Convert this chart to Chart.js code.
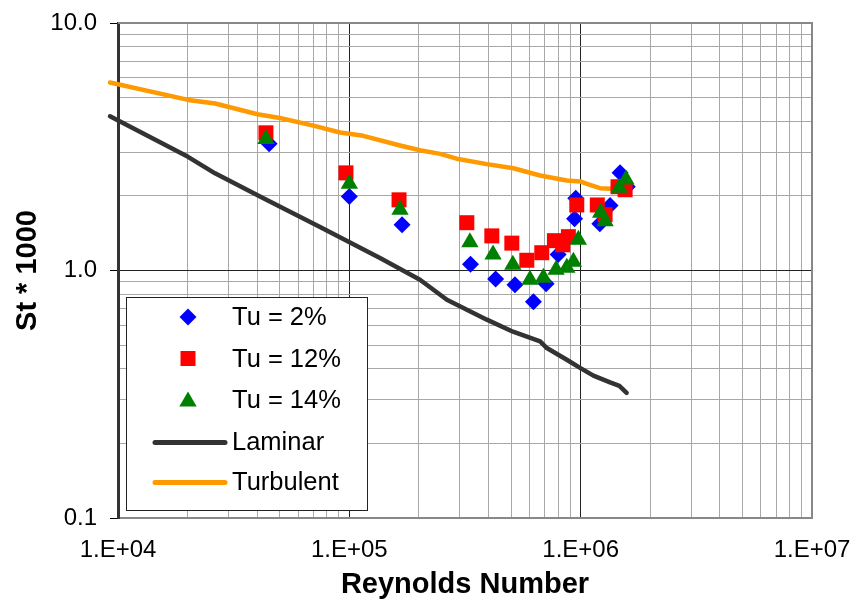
<!DOCTYPE html>
<html>
<head>
<meta charset="utf-8">
<title>Stanton number vs Reynolds number</title>
<script src="https://cdn.jsdelivr.net/npm/chart.js@4.4.1/dist/chart.umd.min.js"></script>
<style>
  html, body { margin: 0; padding: 0; background: #ffffff; }
  #wrap { width: 860px; height: 605px; }
</style>
</head>
<body>
<div id="wrap"><canvas id="chart" width="860" height="605"></canvas></div>
<script>
// Axis ticks (log decades) and their labels
const xTickValues = [1e4, 1e5, 1e6, 1e7];
const xTickLabels = ['1.E+04', '1.E+05', '1.E+06', '1.E+07'];
const yTickValues = [0.1, 1, 10];
const yTickLabels = ['0.1', '1.0', '10.0'];

// Measured Stanton numbers (St * 1000) at three turbulence intensities
const reTu2 = [4.5e4, 1.0e5, 1.69e5, 3.34e5, 4.29e5, 5.2e5, 6.25e5, 7.09e5, 7.99e5, 9.41e5, 9.52e5, 1.21e6, 1.34e6, 1.48e6, 1.59e6];
const stTu2 = [3.25, 1.99, 1.53, 1.06, 0.924, 0.876, 0.748, 0.884, 1.16, 1.62, 1.96, 1.545, 1.83, 2.48, 2.18];

const reTu12 = [4.36e4, 9.67e4, 1.64e5, 3.22e5, 4.13e5, 5.04e5, 5.85e5, 6.79e5, 7.7e5, 8.37e5, 8.85e5, 9.62e5, 1.18e6, 1.275e6, 1.45e6, 1.556e6];
const stTu12 = [3.60, 2.48, 1.93, 1.56, 1.38, 1.29, 1.10, 1.18, 1.32, 1.27, 1.37, 1.84, 1.84, 1.68, 2.18, 2.12];

const reTu14 = [4.36e4, 1.0e5, 1.656e5, 3.32e5, 4.18e5, 5.09e5, 6.04e5, 6.9e5, 7.83e5, 8.71e5, 9.3e5, 9.77e5, 1.22e6, 1.275e6, 1.47e6, 1.57e6];
const stTu14 = [3.40, 2.24, 1.76, 1.30, 1.16, 1.055, 0.918, 0.935, 1.007, 1.026, 1.085, 1.33, 1.71, 1.58, 2.16, 2.33];

// Reference correlations
const reLaminar = [9236, 2.007e4, 2.627e4, 4.11e4, 7.47e4, 1.357e5, 2.02e5, 2.64e5, 3.93e5, 5.1e5, 6.68e5, 7.14e5, 8.71e5, 9.94e5, 1.135e6, 1.34e6, 1.47e6, 1.58e6];
const stLaminar = [4.20, 2.88, 2.47, 1.99, 1.50, 1.123, 0.918, 0.762, 0.633, 0.566, 0.517, 0.486, 0.436, 0.404, 0.376, 0.353, 0.342, 0.320];

const reTurbulent = [9236, 2.01e4, 2.63e4, 4.01e4, 5.01e4, 6.99e4, 9.12e4, 1.149e5, 1.656e5, 2.02e5, 2.47e5, 2.91e5, 3.93e5, 5.12e5, 6.68e5, 8.71e5, 9.94e5, 1.063e6, 1.213e6, 1.353e6];
const stTurbulent = [5.75, 4.89, 4.73, 4.28, 4.13, 3.85, 3.61, 3.50, 3.20, 3.06, 2.96, 2.83, 2.69, 2.59, 2.42, 2.31, 2.29, 2.24, 2.15, 2.14];

const FONT = "'Liberation Sans', Arial, Helvetica, sans-serif";

function pairs(xs, ys) { return xs.map((x, i) => ({ x: x, y: ys[i] })); }

// Major tick at each decade plus minor ticks at 2..9
function decadeTicks(values) {
  const out = [];
  values.forEach((base, i) => {
    out.push({ value: base, major: true });
    if (i < values.length - 1) {
      for (let k = 2; k <= 9; k++) out.push({ value: base * k, major: false });
    }
  });
  return out;
}

function labelFor(values, labels, v) {
  const j = values.findIndex(t => Math.abs(t - v) / t < 1e-9);
  return j >= 0 ? labels[j] : '';
}

const gridColor = c => (c.tick && c.tick.major) ? '#222222' : '#a8a8a8';

// Top and right edges of the plot frame
const framePlugin = {
  id: 'frame',
  beforeDatasetsDraw(chart) {
    const { ctx, chartArea: a } = chart;
    ctx.save();
    ctx.strokeStyle = '#888888';
    ctx.lineWidth = 2;
    ctx.beginPath();
    ctx.moveTo(a.left, a.top);
    ctx.lineTo(a.right, a.top);
    ctx.lineTo(a.right, a.bottom);
    ctx.stroke();
    ctx.restore();
  }
};

function drawMarker(ctx, style, x, y, r, color) {
  ctx.fillStyle = color;
  ctx.beginPath();
  if (style === 'rectRot') {
    ctx.moveTo(x, y - r); ctx.lineTo(x + r, y); ctx.lineTo(x, y + r); ctx.lineTo(x - r, y);
  } else if (style === 'rect') {
    const s = r * Math.SQRT1_2;
    ctx.rect(x - s, y - s, 2 * s, 2 * s);
  } else if (style === 'triangle') {
    const h = r * Math.sqrt(3) / 2;
    ctx.moveTo(x, y - r); ctx.lineTo(x + h, y + r / 2); ctx.lineTo(x - h, y + r / 2);
  }
  ctx.closePath();
  ctx.fill();
}

// Boxed legend in the lower-left part of the plot
const legendPlugin = {
  id: 'boxLegend',
  afterDraw(chart) {
    const ctx = chart.ctx;
    const box = { x: 126, y: 297, w: 241, h: 213 };
    ctx.save();
    ctx.fillStyle = '#ffffff';
    ctx.fillRect(box.x, box.y, box.w, box.h);
    ctx.strokeStyle = '#222222';
    ctx.lineWidth = 1;
    ctx.strokeRect(box.x + 0.5, box.y + 0.5, box.w, box.h);

    const rows = [316, 357.5, 398.5, 440.5, 480.5];
    const markerX = 188, textX = 232;
    ctx.font = '25.5px ' + FONT;
    ctx.textBaseline = 'alphabetic';
    ctx.textAlign = 'left';
    chart.data.datasets.forEach((ds, i) => {
      const y = rows[i];
      if (ds.showLine) {
        ctx.strokeStyle = ds.borderColor;
        ctx.lineWidth = 5;
        ctx.lineCap = 'round';
        ctx.beginPath();
        ctx.moveTo(155, y + 2);
        ctx.lineTo(225, y + 2);
        ctx.stroke();
      } else {
        const my = ds.pointStyle === 'triangle' ? y + 3 : y + 1;
        drawMarker(ctx, ds.pointStyle, markerX, my, ds.pointRadius, ds.backgroundColor);
      }
      ctx.fillStyle = '#000000';
      ctx.fillText(ds.label, textX, y + 9.2);
    });
    ctx.restore();
  }
};

const chart = new Chart(document.getElementById('chart'), {
  type: 'scatter',
  data: {
    datasets: [
      { label: 'Tu = 2%', data: pairs(reTu2, stTu2), pointStyle: 'rectRot', pointRadius: 8.5,
        backgroundColor: '#0000ff', borderColor: '#0000ff', borderWidth: 0, showLine: false, order: 2 },
      { label: 'Tu = 12%', data: pairs(reTu12, stTu12), pointStyle: 'rect', pointRadius: 10.6,
        backgroundColor: '#ff0000', borderColor: '#ff0000', borderWidth: 0, showLine: false, order: 1 },
      { label: 'Tu = 14%', data: pairs(reTu14, stTu14), pointStyle: 'triangle', pointRadius: 10,
        backgroundColor: '#008000', borderColor: '#008000', borderWidth: 0, showLine: false, order: 0 },
      { label: 'Laminar', data: pairs(reLaminar, stLaminar), showLine: true, pointRadius: 0,
        borderColor: '#333333', backgroundColor: '#333333', borderWidth: 4.5, tension: 0,
        borderJoinStyle: 'round', borderCapStyle: 'round', clip: false, order: 3 },
      { label: 'Turbulent', data: pairs(reTurbulent, stTurbulent), showLine: true, pointRadius: 0,
        borderColor: '#ff9900', backgroundColor: '#ff9900', borderWidth: 4.5, tension: 0,
        borderJoinStyle: 'round', borderCapStyle: 'round', clip: false, order: 4 }
    ]
  },
  options: {
    responsive: false,
    devicePixelRatio: 1,
    animation: false,
    layout: { padding: { top: 23, right: 48, left: 0, bottom: 0 } },
    plugins: { legend: { display: false }, tooltip: { enabled: false } },
    elements: { point: { hoverRadius: 0 } },
    scales: {
      x: {
        type: 'logarithmic',
        min: xTickValues[0],
        max: xTickValues[xTickValues.length - 1],
        afterBuildTicks: s => { s.ticks = decadeTicks(xTickValues); },
        afterFit: s => { s.height = 87; s.paddingLeft = 0; s.paddingRight = 0; },
        grid: { color: gridColor, lineWidth: 1, drawTicks: false },
        border: { color: '#888888', width: 2 },
        ticks: {
          autoSkip: false, maxRotation: 0, minRotation: 0, padding: 17.5,
          color: '#000000', font: { family: FONT, size: 24 },
          callback: v => labelFor(xTickValues, xTickLabels, v)
        },
        title: {
          display: true, text: 'Reynolds Number', color: '#000000',
          font: { family: FONT, size: 29, weight: 'bold' },
          padding: { top: 0, bottom: 3 }
        }
      },
      y: {
        type: 'logarithmic',
        min: yTickValues[0],
        max: yTickValues[yTickValues.length - 1],
        afterBuildTicks: s => { s.ticks = decadeTicks(yTickValues); },
        afterFit: s => { s.width = 118; s.paddingTop = 0; s.paddingBottom = 0; },
        grid: {
          color: gridColor, lineWidth: 1, drawTicks: true, tickLength: 8,
          tickColor: c => (c.tick && c.tick.major) ? '#000000' : 'rgba(0,0,0,0)'
        },
        border: { color: '#333333', width: 3 },
        ticks: {
          autoSkip: false, padding: 13,
          color: '#000000', font: { family: FONT, size: 24 },
          callback: v => labelFor(yTickValues, yTickLabels, v)
        },
        title: {
          display: true, text: 'St * 1000', color: '#000000',
          font: { family: FONT, size: 29, weight: 'bold' },
          padding: { top: 11, bottom: 0 }
        }
      }
    }
  },
  plugins: [framePlugin, legendPlugin]
});
</script>
</body>
</html>
